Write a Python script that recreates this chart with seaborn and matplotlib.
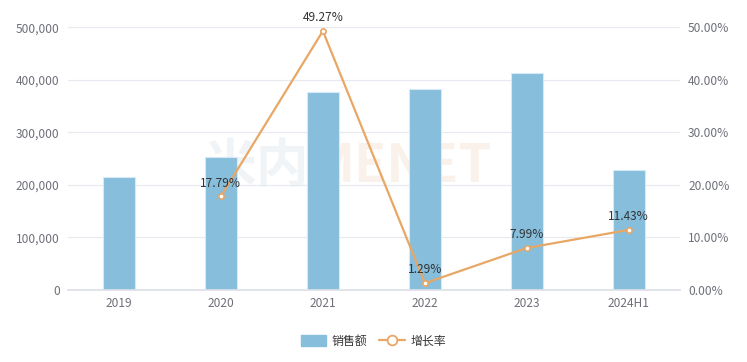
import numpy as np
import pandas as pd
import matplotlib.pyplot as plt
import seaborn as sns
from matplotlib.patches import Patch
from matplotlib.lines import Line2D
from matplotlib.ticker import FuncFormatter, MultipleLocator

# -----------------------------
# Data
# -----------------------------
years = ["2019", "2020", "2021", "2022", "2023", "2024H1"]
sales = [214700, 252900, 377500, 382400, 412900, 228000]
growth_years = ["2020", "2021", "2022", "2023", "2024H1"]
growth = [17.79, 49.27, 1.29, 7.99, 11.43]

bar_color = "#86BEDC"
line_color = "#E8A765"
label_color = "#6E7079"
grid_color = "#E6E9EF"

sns.set_theme(style="white")
plt.rcParams["font.family"] = ["Noto Sans CJK SC", "DejaVu Sans"]

fig, ax = plt.subplots(figsize=(7.47, 3.62), dpi=100)
fig.subplots_adjust(left=0.091, right=0.910, top=0.925, bottom=0.199)

# -----------------------------
# Bars: sales
# -----------------------------
df = pd.DataFrame({"year": years, "sales": sales})
sns.barplot(data=df, x="year", y="sales", ax=ax, color=bar_color, width=0.31,
            saturation=1, edgecolor="#D6EAF5", linewidth=0.8, zorder=2)

ax.set_ylim(0, 500000)
ax.yaxis.set_major_locator(MultipleLocator(100000))
ax.yaxis.set_major_formatter(FuncFormatter(lambda v, p: f"{v:,.0f}"))
ax.grid(axis="y", color=grid_color, linewidth=0.8, zorder=0)
ax.set_axisbelow(True)
ax.set_xlabel("")
ax.set_ylabel("")
ax.set_xlim(-0.5, len(years) - 0.5)
for s in ["top", "left", "right"]:
    ax.spines[s].set_visible(False)
ax.spines["bottom"].set_color("#DDE1E8")
ax.tick_params(axis="both", length=0, colors=label_color, labelsize=8.6)
ax.tick_params(axis="y", pad=6)
ax.tick_params(axis="x", pad=5)

# faint watermark
ax.text(0.395, 0.47, "米内", transform=ax.transAxes, ha="right", va="center",
        fontsize=38, fontweight="bold", color="#E9EEF2", alpha=0.6, zorder=1)
ax.text(0.395, 0.47, "MENET", transform=ax.transAxes, ha="left", va="center",
        fontsize=38, fontweight="bold", color="#F7E9DC", alpha=0.6, zorder=1)

# -----------------------------
# Line: growth rate (right axis)
# -----------------------------
ax2 = ax.twinx()
gx = [years.index(y) for y in growth_years]
sns.lineplot(x=gx, y=growth, ax=ax2, color=line_color, linewidth=1.6,
             marker="o", markersize=3.8, markerfacecolor="white",
             markeredgecolor=line_color, markeredgewidth=1.2, zorder=3)
for xi, g in zip(gx, growth):
    ax2.annotate(f"{g:.2f}%", (xi, g), textcoords="offset points", xytext=(0, 5),
                 ha="center", va="bottom", fontsize=8.6, color="#333333")

ax2.set_ylim(0, 50)
ax2.yaxis.set_major_locator(MultipleLocator(10))
ax2.yaxis.set_major_formatter(FuncFormatter(lambda v, p: f"{v:.2f}%"))
ax2.set_xlim(-0.5, len(years) - 0.5)
for s in ["top", "left", "right", "bottom"]:
    ax2.spines[s].set_visible(False)
ax2.tick_params(axis="y", length=0, colors=label_color, labelsize=8.6, pad=6)
ax2.grid(False)

# -----------------------------
# Legend
# -----------------------------
handles = [
    Patch(facecolor=bar_color, edgecolor=bar_color, label="销售额"),
    Line2D([0], [0], color=line_color, linewidth=1.6, marker="o", markersize=7,
           markerfacecolor="white", markeredgecolor=line_color, markeredgewidth=1.3,
           label="增长率"),
]
fig.legend(handles=handles, loc="center", bbox_to_anchor=(0.5, 1 - 341 / 362),
           ncol=2, frameon=False, fontsize=8.6, handlelength=2.1, handleheight=1.1,
           columnspacing=1.0, handletextpad=0.5, labelcolor="#333333")

plt.savefig("out.png", dpi=100)
